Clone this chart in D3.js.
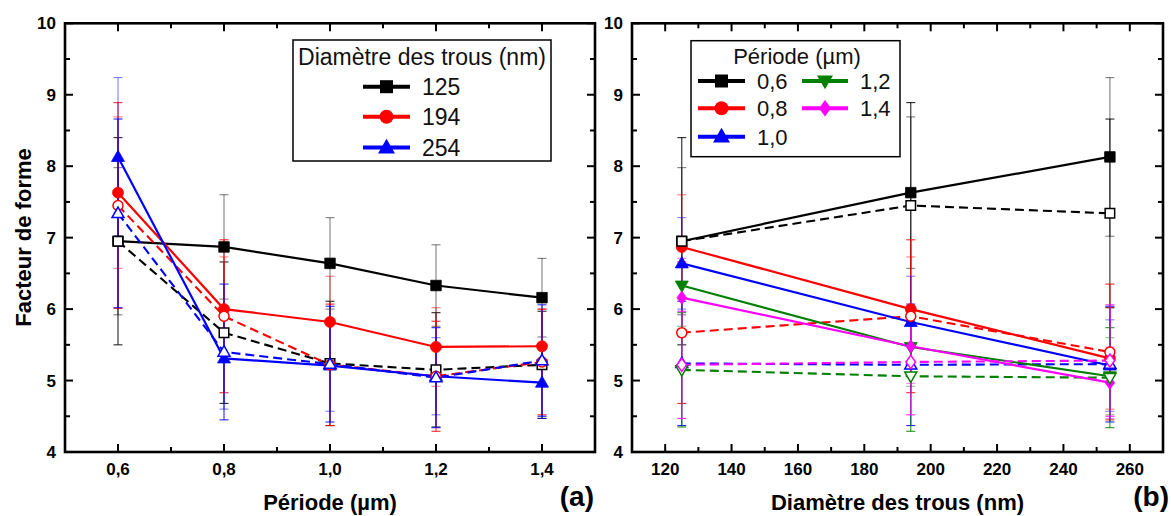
<!DOCTYPE html>
<html><head><meta charset="utf-8">
<script src="https://cdn.jsdelivr.net/npm/d3@7"></script>
<style>body{margin:0;background:#fff} svg{display:block}</style>
</head><body>
<svg id="c" width="1171" height="516"></svg>
<script>
// ---------------- DATA ----------------
const periods = [0.6, 0.8, 1.0, 1.2, 1.4];            // µm
const periodLabels = ["0,6", "0,8", "1,0", "1,2", "1,4"];
const diameters = [125, 194, 254];                     // nm
const diameterLabels = ["125", "194", "254"];
const yTicks = [4, 5, 6, 7, 8, 9, 10];
const diameterTicks = [120, 140, 160, 180, 200, 220, 240, 260];

// filled symbols / solid lines, per diameter across periods
const solid125 = [6.95, 6.87, 6.64, 6.33, 6.16];
const solid194 = [7.63, 6.00, 5.82, 5.47, 5.48];
const solid254 = [8.13, 5.31, 5.21, 5.06, 4.97];
const solidErr125 = [1.03, 0.73, 0.64, 0.57, 0.55];
const solidErr194 = [1.06, 0.73, 0.64, 0.55, 0.52];
const solidErr254 = [1.11, 0.71, 0.64, 0.54, 0.50];

// open symbols / dashed lines, per diameter across periods
const dash125 = [6.95, 5.67, 5.24, 5.15, 5.22];
const dash194 = [7.45, 5.90, 5.22, 5.06, 5.26];
const dash254 = [7.34, 5.40, 5.23, 5.04, 5.28];
const dashErr125 = [1.45, 0.99, 0.87, 0.80, 0.75];
const dashErr194 = [1.44, 1.07, 0.85, 0.77, 0.74];
const dashErr254 = [1.32, 0.95, 0.81, 0.70, 0.78];

const diamColors = ["#000000", "#ff0000", "#0000ff"];
const periodColors = ["#000000", "#ff0000", "#0000ff", "#008000", "#ff00ff"];
const diamShapes = ["square", "circle", "triUp"];
const periodShapes = ["square", "circle", "triUp", "triDown", "diamond"];

// ---------------- HELPERS ----------------
const svg = d3.select("#c");
const AX_FONT = "'Liberation Sans', Arial, sans-serif";
const LEG_FONT = "'Liberation Sans', Arial, sans-serif";

function shapePath(shape, s) {
  const h = s / 2;
  switch (shape) {
    case "square": return `M${-h},${-h}H${h}V${h}H${-h}Z`;
    case "circle": return `M${-h},0A${h},${h} 0 1,0 ${h},0A${h},${h} 0 1,0 ${-h},0Z`;
    case "triUp": { const t = s * 0.866; return `M0,${-t*0.6}L${h},${t*0.4}L${-h},${t*0.4}Z`; }
    case "triDown": { const t = s * 0.866; return `M0,${t*0.6}L${h},${-t*0.4}L${-h},${-t*0.4}Z`; }
    case "diamond": return `M0,${-h*1.1}L${h*0.8},0L0,${h*1.1}L${-h*0.8},0Z`;
  }
}
const markerSize = {square: 10.5, circle: 11, triUp: 13, triDown: 13, diamond: 12};
const openSize = {square: 9.5, circle: 10, triUp: 12, triDown: 12, diamond: 12};

const y = d3.scaleLinear().domain([4, 10]).range([452, 23.3]);

function drawFrame(x, x0, x1, majors, minors, labels, yLabX) {
  const g = svg.append("g");
  majors.forEach(v => {
    g.append("line").attr("x1", x(v)).attr("x2", x(v)).attr("y1", 452).attr("y2", 444).attr("stroke", "#000").attr("stroke-width", 2);
    g.append("line").attr("x1", x(v)).attr("x2", x(v)).attr("y1", 23.3).attr("y2", 31.3).attr("stroke", "#000").attr("stroke-width", 2);
  });
  minors.forEach(v => {
    g.append("line").attr("x1", x(v)).attr("x2", x(v)).attr("y1", 452).attr("y2", 447).attr("stroke", "#000").attr("stroke-width", 2);
    g.append("line").attr("x1", x(v)).attr("x2", x(v)).attr("y1", 23.3).attr("y2", 28.3).attr("stroke", "#000").attr("stroke-width", 2);
  });
  d3.range(4, 10.01, 0.5).forEach(v => {
    const major = Math.abs(v - Math.round(v)) < 1e-6;
    const L = major ? 8 : 5;
    g.append("line").attr("x1", x0).attr("x2", x0 + L).attr("y1", y(v)).attr("y2", y(v)).attr("stroke", "#000").attr("stroke-width", 2);
    g.append("line").attr("x1", x1).attr("x2", x1 - L).attr("y1", y(v)).attr("y2", y(v)).attr("stroke", "#000").attr("stroke-width", 2);
  });
  g.append("rect").attr("x", x0).attr("y", 23.3).attr("width", x1 - x0).attr("height", 452 - 23.3)
    .attr("fill", "none").attr("stroke", "#000").attr("stroke-width", 2.6);
  majors.forEach((v, i) => {
    g.append("text").attr("x", x(v)).attr("y", 475).attr("text-anchor", "middle")
      .attr("font-family", AX_FONT).attr("font-weight", "bold").attr("font-size", 17).text(labels[i]);
  });
  yTicks.forEach(v => {
    g.append("text").attr("x", yLabX).attr("y", y(v)).attr("dy", "0.36em").attr("text-anchor", "end")
      .attr("font-family", AX_FONT).attr("font-weight", "bold").attr("font-size", 17).text(v);
  });
}

function drawErrors(g, x, xs, vals, errs, color, filled) {
  const eg = g.append("g").attr("stroke", color).attr("stroke-opacity", filled ? 0.5 : 0.85).attr("stroke-width", 1.1);
  xs.forEach((xv, i) => {
    const cx = x(xv), top = y(vals[i] + errs[i]), bot = y(vals[i] - errs[i]);
    eg.append("line").attr("x1", cx).attr("x2", cx).attr("y1", top).attr("y2", bot);
    eg.append("line").attr("x1", cx - 4.5).attr("x2", cx + 4.5).attr("y1", top).attr("y2", top);
    eg.append("line").attr("x1", cx - 4.5).attr("x2", cx + 4.5).attr("y1", bot).attr("y2", bot);
  });
}
function drawLine(g, x, xs, vals, color, filled) {
  const line = d3.line().x((d, i) => x(xs[i])).y(d => y(d));
  g.append("path").attr("d", line(vals)).attr("fill", "none").attr("stroke", color)
    .attr("stroke-width", filled ? 2.2 : 2.1).attr("stroke-dasharray", filled ? null : "9,5");
}
function drawMarkers(g, x, xs, vals, color, shape, filled) {
  xs.forEach((xv, i) => {
    g.append("path").attr("transform", `translate(${x(xv)},${y(vals[i])})`)
      .attr("d", shapePath(shape, filled ? markerSize[shape] : openSize[shape]))
      .attr("fill", filled ? color : "#fff").attr("stroke", color).attr("stroke-width", filled ? 0.8 : 1.5);
  });
}

function drawPanel(x, xs, solidSets, dashSets, solidErrs, dashErrs, colors, shapes) {
  const g = svg.append("g");
  solidSets.forEach((s, k) => {
    drawErrors(g, x, xs, s, solidErrs[k], colors[k], true);
    drawErrors(g, x, xs, dashSets[k], dashErrs[k], colors[k], false);
  });
  solidSets.forEach((s, k) => {
    drawLine(g, x, xs, dashSets[k], colors[k], false);
    drawLine(g, x, xs, s, colors[k], true);
  });
  solidSets.forEach((s, k) => drawMarkers(g, x, xs, s, colors[k], shapes[k], true));
  dashSets.forEach((s, k) => drawMarkers(g, x, xs, s, colors[k], shapes[k], false));
}

// ---------------- PANEL (a) ----------------
const xa = d3.scaleLinear().domain([0.5, 1.5]).range([65, 595]);
drawFrame(xa, 65, 595, periods, [0.7, 0.9, 1.1, 1.3], periodLabels, 56);
drawPanel(xa, periods,
  [solid125, solid194, solid254], [dash125, dash194, dash254],
  [solidErr125, solidErr194, solidErr254], [dashErr125, dashErr194, dashErr254],
  diamColors, diamShapes);

// ---------------- PANEL (b) ----------------
const xb = d3.scaleLinear().domain([110, 270]).range([632, 1163]);
drawFrame(xb, 632, 1163, diameterTicks, [130, 150, 170, 190, 210, 230, 250], diameterTicks.map(String), 623);
const solidByDiam = [solid125, solid194, solid254];
const dashByDiam = [dash125, dash194, dash254];
const solidErrByDiam = [solidErr125, solidErr194, solidErr254];
const dashErrByDiam = [dashErr125, dashErr194, dashErr254];
const pick = (sets, i) => diameters.map((d, j) => sets[j][i]);
drawPanel(xb, diameters,
  periods.map((p, i) => pick(solidByDiam, i)), periods.map((p, i) => pick(dashByDiam, i)),
  periods.map((p, i) => pick(solidErrByDiam, i)), periods.map((p, i) => pick(dashErrByDiam, i)),
  periodColors, periodShapes);

// ---------------- AXIS TITLES ----------------
svg.append("text").attr("transform", "translate(31,237.5) rotate(-90)").attr("text-anchor", "middle")
  .attr("font-family", AX_FONT).attr("font-weight", "bold").attr("font-size", 22).text("Facteur de forme");
svg.append("text").attr("x", 330).attr("y", 510).attr("text-anchor", "middle")
  .attr("font-family", AX_FONT).attr("font-weight", "bold").attr("font-size", 22).text("Période (µm)");
svg.append("text").attr("x", 897.5).attr("y", 510).attr("text-anchor", "middle")
  .attr("font-family", AX_FONT).attr("font-weight", "bold").attr("font-size", 22).text("Diamètre des trous (nm)");
svg.append("text").attr("x", 594).attr("y", 505.5).attr("text-anchor", "end")
  .attr("font-family", AX_FONT).attr("font-weight", "bold").attr("font-size", 28).text("(a)");
svg.append("text").attr("x", 1169).attr("y", 505.5).attr("text-anchor", "end")
  .attr("font-family", AX_FONT).attr("font-weight", "bold").attr("font-size", 28).text("(b)");

// ---------------- LEGENDS ----------------
const legSize = {square: 13, circle: 14, triUp: 17, triDown: 16, diamond: 15};
function legendItem(g, x0, x1, yy, color, shape, label, fs) {
  g.append("line").attr("x1", x0).attr("x2", x1).attr("y1", yy).attr("y2", yy).attr("stroke", color).attr("stroke-width", 4);
  g.append("path").attr("transform", `translate(${(x0 + x1) / 2},${yy})`).attr("d", shapePath(shape, legSize[shape])).attr("fill", color);
  g.append("text").attr("x", x1 + 12).attr("y", yy).attr("dy", "0.36em").attr("font-family", LEG_FONT)
    .attr("font-size", fs).attr("fill", "#111").text(label);
}
const la = svg.append("g");
la.append("rect").attr("x", 293).attr("y", 40).attr("width", 258).attr("height", 121).attr("fill", "#fff").attr("stroke", "#000").attr("stroke-width", 1.5);
la.append("text").attr("x", 422).attr("y", 65).attr("text-anchor", "middle").attr("font-family", LEG_FONT).attr("font-size", 23).attr("fill", "#111").text("Diamètre des trous (nm)");
[86.7, 116.7, 147.5].forEach((yy, k) => legendItem(la, 363, 410, yy, diamColors[k], diamShapes[k], diameterLabels[k], 23));

const lb = svg.append("g");
lb.append("rect").attr("x", 691).attr("y", 40.7).attr("width", 209).attr("height", 116).attr("fill", "#fff").attr("stroke", "#000").attr("stroke-width", 1.5);
lb.append("text").attr("x", 797).attr("y", 64).attr("text-anchor", "middle").attr("font-family", LEG_FONT).attr("font-size", 22).attr("fill", "#111").text("Période (µm)");
const lbPos = [[698, 745, 81], [698, 745, 108.3], [698, 745, 136.7], [802, 848, 81], [802, 848, 108.3]];
lbPos.forEach((p, k) => legendItem(lb, p[0], p[1], p[2], periodColors[k], periodShapes[k], periodLabels[k], 22));
</script>
</body></html>
